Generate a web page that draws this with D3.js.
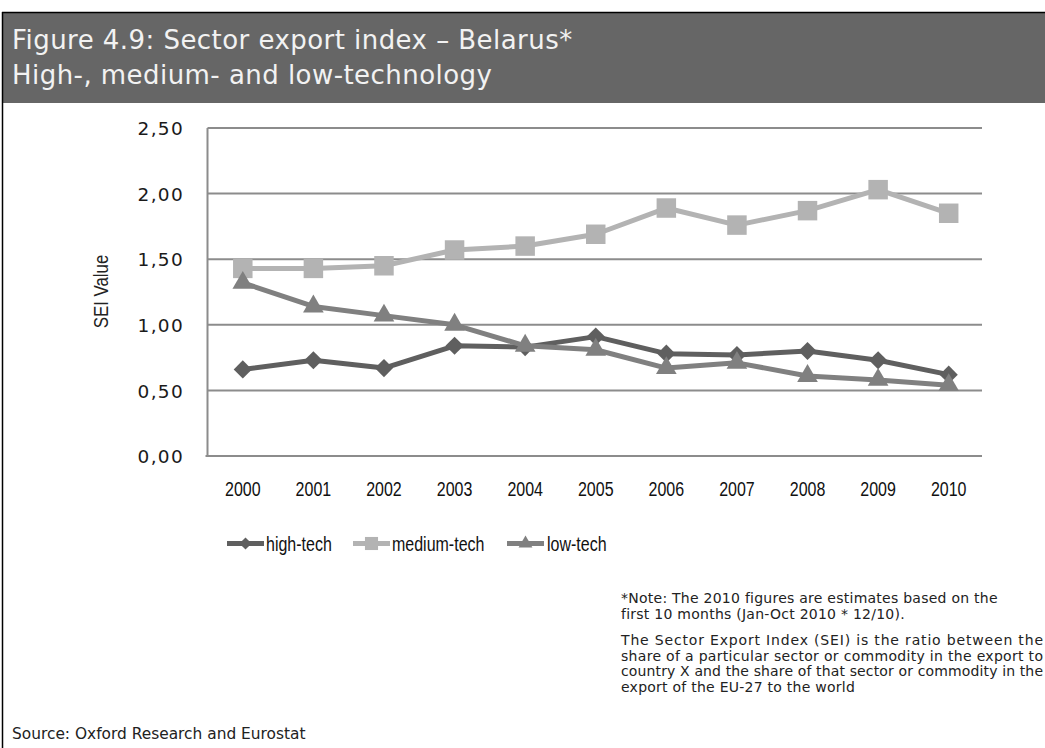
<!DOCTYPE html>
<html>
<head>
<meta charset="utf-8">
<script src="https://cdn.jsdelivr.net/npm/d3@7"></script>
<style>
  html, body { margin: 0; padding: 0; background: #fff; }
  svg { display: block; }
</style>
</head>
<body>
<div id="chart"></div>
<script>
// ---- Data ----
const years = ["2000","2001","2002","2003","2004","2005","2006","2007","2008","2009","2010"];
const highTech   = [0.66, 0.73, 0.67, 0.84, 0.83, 0.91, 0.78, 0.77, 0.80, 0.73, 0.62];
const mediumTech = [1.43, 1.43, 1.45, 1.57, 1.60, 1.69, 1.89, 1.76, 1.87, 2.03, 1.85];
const lowTech    = [1.32, 1.14, 1.07, 1.00, 0.84, 0.81, 0.67, 0.71, 0.61, 0.58, 0.54];
const yTicks = [0, 0.5, 1.0, 1.5, 2.0, 2.5];
const seriesNames = ["high-tech", "medium-tech", "low-tech"];
const titleLines = ["Figure 4.9: Sector export index \u2013 Belarus*", "High-, medium- and low-technology"];
const yTitle = "SEI Value";
const noteLines1 = ["*Note: The 2010 figures are estimates based on the", "first 10 months (Jan-Oct 2010 * 12/10)."];
const noteLines2 = ["The Sector Export Index (SEI) is the ratio between the",
                    "share of a particular sector or commodity in the export to",
                    "country X and the share of that sector or commodity in the",
                    "export of the EU-27 to the world"];
const sourceText = "Source: Oxford Research and Eurostat";

// ---- Setup ----
const W = 1045, H = 748;
const svg = d3.select("#chart").append("svg").attr("width", W).attr("height", H);
svg.append("rect").attr("width", W).attr("height", H).attr("fill", "#fff");

// Title band and borders
svg.append("rect").attr("x", 2).attr("y", 12).attr("width", W - 2).attr("height", 91).attr("fill", "#666666");
svg.append("line").attr("x1", 2).attr("x2", W).attr("y1", 12.5).attr("y2", 12.5).attr("stroke", "#000").attr("stroke-width", 1.5);
svg.append("line").attr("x1", 2.5).attr("x2", 2.5).attr("y1", 12).attr("y2", H).attr("stroke", "#000").attr("stroke-width", 1.5);

const titleFont = "'DejaVu Sans', Verdana, sans-serif";
svg.append("text").attr("x", 12).attr("y", 48.5).text(titleLines[0])
  .attr("font-family", titleFont).attr("font-size", 26).attr("letter-spacing", "0.45px").attr("fill", "#f2f2f2");
svg.append("text").attr("x", 12).attr("y", 83.5).text(titleLines[1])
  .attr("font-family", titleFont).attr("font-size", 26).attr("letter-spacing", "0.45px").attr("fill", "#f2f2f2");

// Narrow-font emulation: Liberation Sans (Arial metrics) compressed horizontally
const narrowFont = "'Liberation Sans', Arial, sans-serif";
function narrowize(sel) {
  sel.each(function () {
    const len = this.getComputedTextLength();
    d3.select(this).attr("textLength", len * 0.82).attr("lengthAdjust", "spacingAndGlyphs");
  });
}

// ---- Scales ----
const x0 = 207.5, x1 = 984, yTop = 128, yBot = 456;
const x = d3.scaleBand().domain(years).range([x0, x1]);
const cx = d => x(d) + x.bandwidth() / 2;
const y = d3.scaleLinear().domain([0, 2.5]).range([yBot, yTop]);

const gridColor = "#8c8c8c";
// Gridlines
svg.append("g").selectAll("line").data(yTicks.filter(t => t > 0)).join("line")
  .attr("x1", x0).attr("x2", x1 - 2)
  .attr("y1", d => y(d)).attr("y2", d => y(d))
  .attr("stroke", gridColor).attr("stroke-width", 2);

// Axes
svg.append("line").attr("x1", x0).attr("x2", x0).attr("y1", yTop).attr("y2", yBot + 1)
  .attr("stroke", gridColor).attr("stroke-width", 2);
svg.append("line").attr("x1", x0 - 2).attr("x2", x1 - 2).attr("y1", yBot).attr("y2", yBot)
  .attr("stroke", gridColor).attr("stroke-width", 2);

const fmt = v => v.toFixed(2).replace(".", ",");
const yAxis = d3.axisLeft(y).tickValues(yTicks).tickFormat(fmt).tickSize(0).tickPadding(0);
const gy = svg.append("g").attr("transform", `translate(184,0)`).call(yAxis);
gy.select(".domain").remove();
gy.selectAll("text").attr("font-family", "'DejaVu Sans', Verdana, sans-serif")
  .attr("font-size", 18.5).attr("letter-spacing", "1.3px").attr("fill", "#1a1a1a").attr("dy", "0.36em");

const xAxis = d3.axisBottom(x).tickSize(0).tickPadding(0);
const gx = svg.append("g").attr("transform", `translate(0,${yBot})`).call(xAxis);
gx.select(".domain").remove();
gx.selectAll("text").attr("font-family", narrowFont).attr("font-size", 19.5).attr("fill", "#111")
  .attr("dy", null).attr("y", 40);
narrowize(gx.selectAll("text"));

// Y title
const yt = svg.append("text").attr("transform", `translate(108,291.5) rotate(-90)`)
  .attr("text-anchor", "middle").text(yTitle)
  .attr("font-family", narrowFont).attr("font-size", 20.5).attr("fill", "#222");
narrowize(yt);

// ---- Series ----
const series = [
  { name: seriesNames[0], values: highTech, color: "#5f5f5f", sym: "diamond" },
  { name: seriesNames[1], values: mediumTech, color: "#b3b3b3", sym: "square" },
  { name: seriesNames[2], values: lowTech, color: "#808080", sym: "triangle" }
];

function markerPath(sym, scale) {
  if (sym === "diamond") return d3.symbol(d3.symbolSquare, 165 * scale)();
  if (sym === "square") return d3.symbol(d3.symbolSquare, 380 * scale)();
  return d3.symbol(d3.symbolTriangle, 185 * scale)();
}

const line = d3.line().x((d, i) => cx(years[i])).y(d => y(d));
series.forEach(s => {
  const g = svg.append("g");
  g.append("path").datum(s.values).attr("d", line)
    .attr("fill", "none").attr("stroke", s.color).attr("stroke-width", 5).attr("stroke-linejoin", "round");
  g.selectAll("path.m").data(s.values).join("path").attr("class", "m")
    .attr("d", markerPath(s.sym, 1))
    .attr("transform", (d, i) => `translate(${cx(years[i])},${y(d)})` + (s.sym === "diamond" ? " rotate(45)" : ""))
    .attr("fill", s.color);
});

// ---- Legend ----
const legendY = 543.5;
const legendItems = [
  { lx: 227, tx: 266 },
  { lx: 353, tx: 392 },
  { lx: 507, tx: 547 }
];
series.forEach((s, i) => {
  const it = legendItems[i];
  const g = svg.append("g");
  g.append("line").attr("x1", it.lx).attr("x2", it.lx + 37).attr("y1", legendY).attr("y2", legendY)
    .attr("stroke", s.color).attr("stroke-width", 5);
  g.append("path").attr("d", markerPath(s.sym, 0.45))
    .attr("transform", `translate(${it.lx + 18.5},${legendY})` + (s.sym === "diamond" ? " rotate(45)" : ""))
    .attr("fill", s.color);
  const t = g.append("text").attr("x", it.tx).attr("y", 551).text(s.name)
    .attr("font-family", narrowFont).attr("font-size", 19.5).attr("fill", "#111");
  narrowize(t);
});

// ---- Notes ----
const noteFont = "'DejaVu Sans', Verdana, sans-serif";
const noteY1 = [603, 618.5];
const noteY2 = [645, 660.5, 676, 691.5];
const noteAttrs = sel => sel.attr("font-family", noteFont).attr("font-size", 14)
  .attr("letter-spacing", "0.25px").attr("fill", "#222");
noteLines1.forEach((t, i) => noteAttrs(svg.append("text").attr("x", 621).attr("y", noteY1[i]).text(t)));
noteLines2.forEach((t, i) => {
  const el = noteAttrs(svg.append("text").attr("x", 621).attr("y", noteY2[i]).text(t));
  // justified paragraph: all but the last line fill to the right edge
  if (i < noteLines2.length - 1) {
    el.attr("letter-spacing", null).attr("textLength", 422).attr("lengthAdjust", "spacing");
  }
});

svg.append("text").attr("x", 12).attr("y", 739).text(sourceText)
  .attr("font-family", noteFont).attr("font-size", 15.4).attr("fill", "#222");
</script>
</body>
</html>
